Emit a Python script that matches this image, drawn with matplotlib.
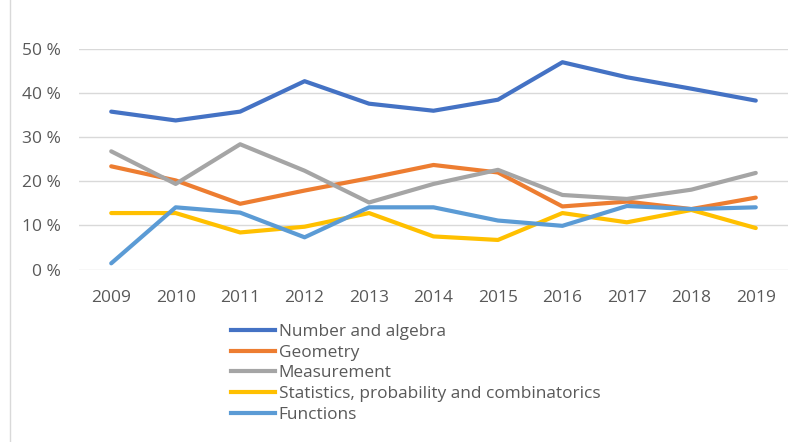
import matplotlib
matplotlib.use("Agg")
import matplotlib.pyplot as plt
from matplotlib.lines import Line2D

years = ["2009", "2010", "2011", "2012", "2013", "2014", "2015", "2016", "2017", "2018", "2019"]
number_algebra = [35.8, 33.8, 35.8, 42.7, 37.6, 36.0, 38.5, 47.0, 43.6, 41.0, 38.3]
geometry = [23.4, 20.2, 14.9, 17.9, 20.7, 23.7, 22.0, 14.3, 15.4, 13.7, 16.3]
measurement = [26.8, 19.4, 28.4, 22.4, 15.2, 19.4, 22.6, 16.9, 16.0, 18.1, 21.9]
statistics = [12.8, 12.8, 8.4, 9.7, 12.8, 7.5, 6.7, 12.8, 10.7, 13.5, 9.4]
functions = [1.4, 14.1, 12.9, 7.3, 14.1, 14.1, 11.1, 9.9, 14.4, 13.7, 14.1]

series_names = ["Number and algebra", "Geometry", "Measurement",
                "Statistics, probability and combinatorics", "Functions"]
yticks = [0, 10, 20, 30, 40, 50]
ytick_labels = ["0 %", "10 %", "20 %", "30 %", "40 %", "50 %"]

colors = ["#4472C4", "#ED7D31", "#A5A5A5", "#FFC000", "#5B9BD5"]
W, H = 798, 442
fig = plt.figure(figsize=(W / 100, H / 100), dpi=100)
plt.rcParams['font.family'] = ['Open Sans', 'DejaVu Sans']

ax = fig.add_axes([79 / W, 1 - 269.5 / H, (788 - 79) / W, (269.5 - 49) / H])
x = list(range(len(years)))
all_series = [number_algebra, geometry, measurement, statistics, functions]
for vals, c, name in zip(all_series, colors, series_names):
    ax.plot(x, vals, color=c, lw=3.0, solid_capstyle='round', solid_joinstyle='round', label=name)

ax.set_xlim(-0.5, len(years) - 0.5)
ax.set_ylim(0, 50)
ax.set_yticks(yticks)
ax.set_yticklabels(ytick_labels)
ax.set_xticks(x)
ax.set_xticklabels(years)
ax.grid(axis='y', color='#D9D9D9', lw=1.0)
ax.set_axisbelow(True)
for s in ax.spines.values():
    s.set_visible(False)
ax.tick_params(axis='both', length=0, colors='#595959', labelsize=12.5)
ax.tick_params(axis='x', pad=15)
ax.tick_params(axis='y', pad=13)

handles = [Line2D([0], [0], color=c, lw=3.0) for c in colors]
leg = fig.legend(handles, series_names, loc='upper left',
                 bbox_to_anchor=(222 / W, 1 - 315 / H), frameon=False,
                 fontsize=12.4, handlelength=2.6, handletextpad=0.2,
                 labelspacing=0.28, borderpad=0)
for t in leg.get_texts():
    t.set_color('#595959')

fig.add_artist(Line2D([10 / W, 10 / W], [0, 1], color='#D9D9D9', lw=1.0))

fig.savefig("out.png", dpi=100)
